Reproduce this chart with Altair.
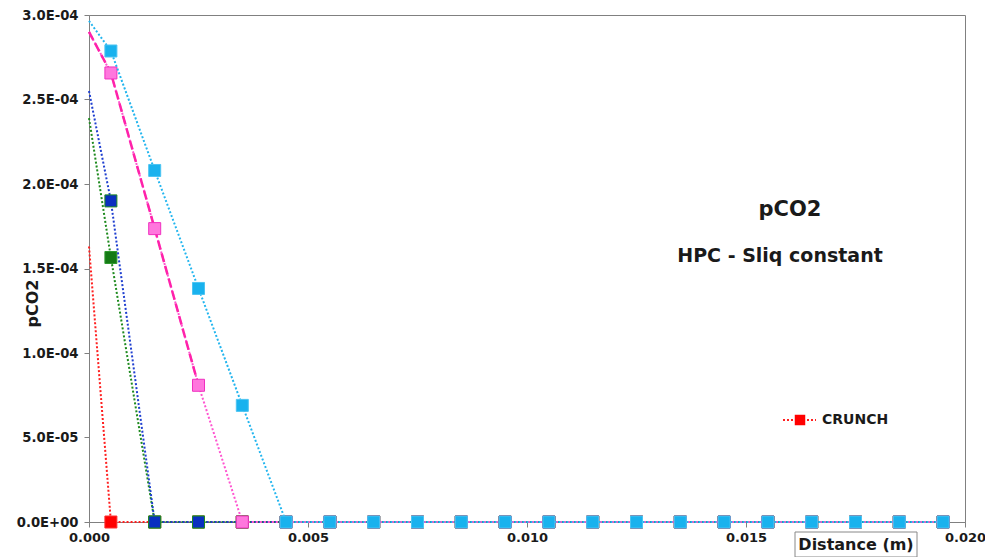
import altair as alt
import pandas as pd

# x positions of the cells (m)
x_vals = [0.0, 0.0005, 0.0015, 0.0025, 0.0035, 0.0045, 0.0055, 0.0065, 0.0075, 0.0085,
          0.0095, 0.0105, 0.0115, 0.0125, 0.0135, 0.0145, 0.0155, 0.0165, 0.0175,
          0.0185, 0.0195]

red_vals = [1.63e-4, 0, 0, 0, 0, 0, 0, 0, 0, 0, 0, 0, 0, 0, 0, 0, 0, 0, 0, 0, 0]
green_vals = [2.39e-4, 1.565e-4, 0, 0, 0, 0, 0, 0, 0, 0, 0, 0, 0, 0, 0, 0, 0, 0, 0, 0, 0]
blue_vals = [2.55e-4, 1.90e-4, 0, 0, 0, 0, 0, 0, 0, 0, 0, 0, 0, 0, 0, 0, 0, 0, 0, 0, 0]
pink_vals = [2.90e-4, 2.657e-4, 1.736e-4, 8.09e-5, 0, 0, 0, 0, 0, 0, 0, 0, 0, 0, 0, 0, 0, 0, 0, 0, 0]
lblue_vals = [2.965e-4, 2.787e-4, 2.08e-4, 1.382e-4, 6.9e-5, 0, 0, 0, 0, 0, 0, 0, 0, 0, 0, 0, 0, 0, 0, 0, 0]

dash_x = [0.0, 0.0005, 0.0015, 0.0025]
dash_vals = [2.90e-4, 2.657e-4, 1.736e-4, 8.09e-5]

x_ticks = [0.0, 0.005, 0.010, 0.015, 0.020]
y_ticks = [0.0, 5e-5, 1e-4, 1.5e-4, 2e-4, 2.5e-4, 3e-4]

FONT = "DejaVu Sans"
TXT = "#1a1a1a"

X = alt.X("x:Q",
          scale=alt.Scale(domain=[0, 0.02], nice=False, zero=False),
          axis=alt.Axis(values=x_ticks, format=".3f", title=None, grid=False,
                        labelFont=FONT, labelFontSize=13, labelFontWeight="bold",
                        labelColor=TXT, domainColor="#808080", tickColor="#808080",
                        tickSize=5, labelPadding=4, labelFlush=False))
Y = alt.Y("y:Q",
          scale=alt.Scale(domain=[0, 3e-4], nice=False),
          axis=alt.Axis(values=y_ticks, title="pCO2", grid=False,
                        labelExpr=("datum.value < 1e-12 ? '0.0E+00' : (datum.value >= 9.99e-5 ? "
                                   "format(datum.value*1e4, '.1f') + 'E-04' : "
                                   "format(datum.value*1e5, '.1f') + 'E-05')"),
                        labelFont=FONT, labelFontSize=13.2, labelFontWeight="bold",
                        labelColor=TXT, domainColor="#808080", tickColor="#808080",
                        tickSize=5, labelPadding=6,
                        titleFont=FONT, titleFontSize=16, titleFontWeight="bold",
                        titleColor=TXT, titleX=-49, titleY=288))


def series(xs, ys, color, fill, stroke, dash=(2, 2), width=2.0, markers=True):
    df = pd.DataFrame({"x": xs, "y": ys})
    layers = [alt.Chart(df).mark_line(color=color, strokeDash=list(dash), strokeWidth=width)
              .encode(x=X, y=Y)]
    if markers:
        pts = df[df["x"] > 0]
        layers.append(alt.Chart(pts).mark_square(size=144, fill=fill, stroke=stroke,
                                                 strokeWidth=1, opacity=1, fillOpacity=1)
                      .encode(x=X, y=Y))
    return layers


layers = []
layers += series(x_vals, red_vals, "#FF2020", "#FF0000", "#FF3030")
layers += series(x_vals, green_vals, "#1E8A1E", "#157A15", "#2E9A2E")
layers += series(x_vals, blue_vals, "#1F3FD0", "#0A2FC0", "#1E8A1E")
pink_line = series(x_vals, pink_vals, "#FF55D0", "#FF77DD", "#F030C0")
layers.append(pink_line[0])
layers += series(dash_x, dash_vals, "#FF22AA", None, None, dash=(9, 4), width=2.5, markers=False)
layers.append(pink_line[1])
layers += series(x_vals, lblue_vals, "#22B5EE", "#19B2EE", "#4CC4F2")

one = pd.DataFrame({"a": [0]})

# annotation texts
layers.append(alt.Chart(one).mark_text(text="pCO2", font=FONT, fontSize=21, fontWeight="bold",
                                       color=TXT, align="center", baseline="middle")
              .encode(x=alt.value(701), y=alt.value(195)))
layers.append(alt.Chart(one).mark_text(text="HPC  - Sliq constant", font=FONT, fontSize=19,
                                       fontWeight="bold", color=TXT, align="center",
                                       baseline="middle")
              .encode(x=alt.value(691), y=alt.value(241)))

# legend (CRUNCH)
layers.append(alt.Chart(one).mark_rule(color="#FF2020", strokeDash=[2, 2], strokeWidth=2)
              .encode(x=alt.value(694), x2=alt.value(727), y=alt.value(405)))
layers.append(alt.Chart(one).mark_square(size=110, color="#FF0000", opacity=1)
              .encode(x=alt.value(711), y=alt.value(405)))
layers.append(alt.Chart(one).mark_text(text="CRUNCH", font=FONT, fontSize=14, fontWeight="bold",
                                       color=TXT, align="left", baseline="middle")
              .encode(x=alt.value(733), y=alt.value(405)))

# boxed x-axis title
layers.append(alt.Chart(one).mark_rect(fill="white", stroke="#888888", strokeWidth=1)
              .encode(x=alt.value(706), x2=alt.value(828), y=alt.value(517), y2=alt.value(542)))
layers.append(alt.Chart(one).mark_text(text="Distance (m)", font=FONT, fontSize=16,
                                       fontWeight="bold", color=TXT, align="center",
                                       baseline="middle")
              .encode(x=alt.value(767), y=alt.value(530)))

chart = alt.layer(*layers).properties(
    width=876, height=507,
    autosize=alt.AutoSizeParams(type="none"),
    padding={"left": 81, "top": 7, "right": 20, "bottom": 35},
    background="white",
).configure_view(stroke="#808080", strokeWidth=1)

chart.save("out.html", embed_options={"renderer": "svg", "actions": False})
